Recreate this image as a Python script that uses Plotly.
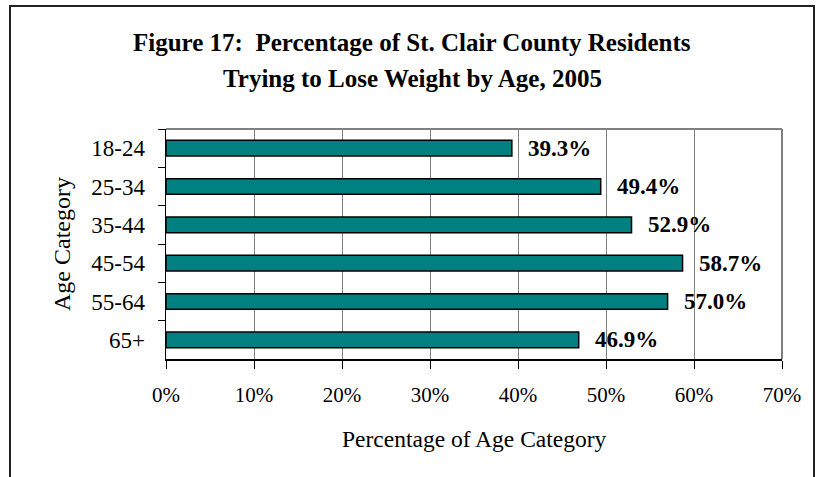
import plotly.graph_objects as go

categories = ["18-24", "25-34", "35-44", "45-54", "55-64", "65+"]
values = [39.3, 49.4, 52.9, 58.7, 57.0, 46.9]
x_ticks = [0, 10, 20, 30, 40, 50, 60, 70]
x_tick_labels = ["0%", "10%", "20%", "30%", "40%", "50%", "60%", "70%"]
value_labels = [f"{v:.1f}%" for v in values]

FONT = "Liberation Serif, Times New Roman, serif"

L, R, T, B = 166, 782, 129, 359
W, H = R - L, B - T

def px(x):
    return (x - L) / W

def py(y):
    return (B - y) / H

fig = go.Figure()
fig.add_trace(go.Bar(
    x=values, y=categories, orientation="h",
    marker=dict(color="#008080", line=dict(color="black", width=1.5)),
    width=0.41, hoverinfo="skip",
))

for c, v, t in zip(categories, values, value_labels):
    fig.add_annotation(x=v, y=c, text=t, showarrow=False, xanchor="left",
                       yanchor="middle", xshift=14,
                       font=dict(family=FONT, size=23, color="black", weight="bold"))

# Title lines
fig.add_annotation(x=px(412), y=py(43), xref="paper", yref="paper",
                   text="<b>Figure 17:  Percentage of St. Clair County Residents</b>",
                   showarrow=False, xanchor="center", yanchor="middle",
                   font=dict(family=FONT, size=25, color="black"))
fig.add_annotation(x=px(412), y=py(79), xref="paper", yref="paper",
                   text="<b>Trying to Lose Weight by Age, 2005</b>",
                   showarrow=False, xanchor="center", yanchor="middle",
                   font=dict(family=FONT, size=25, color="black"))
# Axis titles
fig.add_annotation(x=0.5, y=py(439), xref="paper", yref="paper",
                   text="Percentage of Age Category", showarrow=False,
                   xanchor="center", yanchor="middle",
                   font=dict(family=FONT, size=23.5, color="black"))
fig.add_annotation(x=px(62), y=0.5, xref="paper", yref="paper",
                   text="Age Category", showarrow=False, textangle=-90,
                   xanchor="center", yanchor="middle",
                   font=dict(family=FONT, size=24, color="black"))

shapes = [
    # plot border top/right gray
    dict(type="line", xref="paper", yref="paper", x0=0, x1=1, y0=1, y1=1,
         line=dict(color="#808080", width=2)),
    dict(type="line", xref="paper", yref="paper", x0=1, x1=1, y0=0, y1=1,
         line=dict(color="#808080", width=2)),
    # outer frame
    dict(type="rect", xref="paper", yref="paper", x0=px(10), x1=px(814),
         y0=py(490), y1=py(6), line=dict(color="#222222", width=2),
         fillcolor="rgba(0,0,0,0)", layer="below"),
]

fig.update_layout(
    width=820, height=477,
    margin=dict(l=L, r=820 - R, t=T, b=477 - B, pad=0),
    paper_bgcolor="white", plot_bgcolor="white",
    showlegend=False, shapes=shapes,
    bargap=0.59,
    font=dict(family=FONT, size=22, color="black"),
)
fig.update_xaxes(
    range=[0, 70], tickvals=x_ticks, ticktext=x_tick_labels,
    showgrid=True, gridcolor="#808080", gridwidth=1,
    showline=True, linecolor="black", linewidth=1.5,
    ticks="outside", ticklen=8, tickcolor="black", tickwidth=1,
    ticklabelstandoff=8, zeroline=False,
    tickfont=dict(family=FONT, size=21, color="black"),
    fixedrange=True,
)
fig.update_yaxes(
    categoryorder="array", categoryarray=categories, autorange="reversed",
    showline=True, linecolor="black", linewidth=1.5,
    ticks="outside", ticklen=7, tickcolor="black", tickwidth=1,
    tickson="boundaries", showgrid=False, ticklabelstandoff=15,
    tickfont=dict(family=FONT, size=23, color="black"),
    fixedrange=True,
)

fig.write_html(
    "out.html",
    config={"displayModeBar": False, "staticPlot": True},
    post_script="document.body.style.margin='0';document.body.style.overflow='hidden';",
)
